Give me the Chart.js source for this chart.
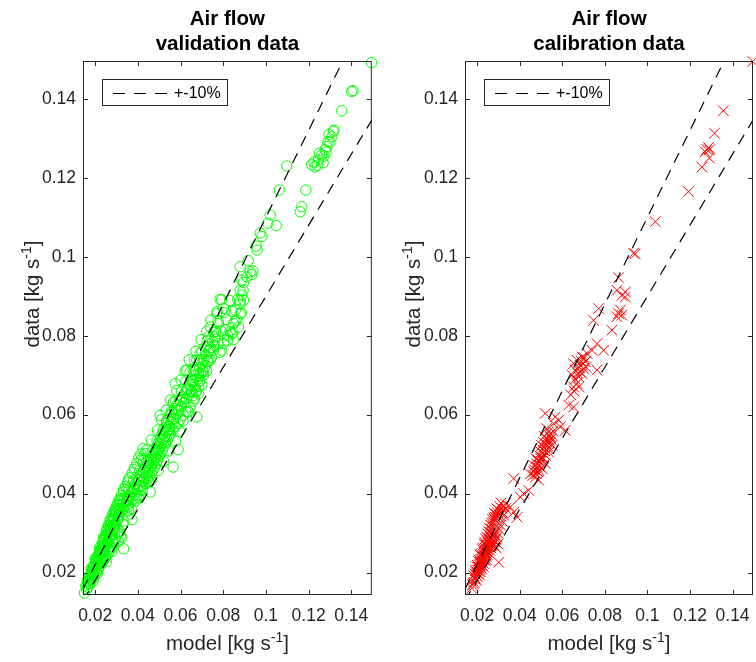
<!DOCTYPE html>
<html><head><meta charset="utf-8">
<script src="https://cdn.jsdelivr.net/npm/chart.js@4/dist/chart.umd.min.js"></script>
<style>
html,body{margin:0;padding:0;background:#fff;}
#wrap{position:relative;width:756px;height:662px;overflow:hidden;}
.c{position:absolute;top:0;height:662px;}
</style></head><body>
<div id="wrap">
<div class="c" style="left:0;width:378px"><canvas id="c1"></canvas></div>
<div class="c" style="left:378px;width:390px"><canvas id="c2"></canvas></div>
</div>
<script>
// ---------------- data ----------------
const tickValues = [0.02, 0.04, 0.06, 0.08, 0.1, 0.12, 0.14];
const tickLabels = ['0.02', '0.04', '0.06', '0.08', '0.1', '0.12', '0.14'];
const axisMin = 0.0143;
const axisMax = 0.1496;
const bandFactors = [1.1, 0.9];
const legendLabel = '+-10%';
const leftTitle = ['Air flow', 'validation data'];
const rightTitle = ['Air flow', 'calibration data'];
const xAxisLabel = ['model [kg s', '-1', ']'];
const yAxisLabel = ['data [kg s', '-1', ']'];

const valModel = [
0.0150,0.0156,0.0160,0.0163,0.0167,0.0170,0.0173,0.0176,0.0179,0.0182,0.0185,0.0187,0.0190,0.0193,0.0196,0.0198,
0.0201,0.0204,0.0206,0.0209,0.0212,0.0214,0.0217,0.0220,0.0222,0.0225,0.0228,0.0230,0.0233,0.0236,0.0238,0.0241,
0.0244,0.0246,0.0249,0.0252,0.0254,0.0257,0.0260,0.0262,0.0265,0.0268,0.0270,0.0273,0.0276,0.0278,0.0281,0.0284,
0.0286,0.0289,0.0292,0.0294,0.0297,0.0300,0.0303,0.0305,0.0308,0.0311,0.0314,0.0317,0.0325,0.0325,0.0333,0.0318,
0.0305,0.0295,0.0285,0.0275,0.0265,0.0255,0.0245,0.0235,0.0225,0.0215,0.0205,0.0195,0.0185,0.0175,0.0165,0.0180,
0.0200,0.0220,0.0240,0.0260,0.0280,0.0300,0.0372,
0.0320,0.0330,0.0333,0.0340,0.0348,0.0345,0.0352,0.0356,0.0358,0.0362,0.0368,0.0372,0.0375,0.0380,0.0385,0.0390,
0.0395,0.0398,0.0403,0.0405,0.0410,0.0411,0.0415,0.0418,0.0422,0.0425,0.0426,0.0430,0.0434,0.0435,0.0438,0.0440,
0.0443,0.0446,0.0448,0.0452,0.0455,0.0458,0.0458,0.0460,0.0463,0.0466,0.0468,0.0471,0.0474,0.0476,0.0479,0.0482,
0.0484,0.0487,0.0489,0.0490,0.0493,0.0495,0.0498,0.0500,0.0503,0.0504,0.0506,0.0508,0.0510,0.0513,0.0515,0.0518,
0.0520,0.0523,0.0525,0.0528,0.0530,0.0533,0.0535,0.0538,0.0540,0.0543,0.0546,0.0548,0.0550,0.0553,0.0556,0.0560,
0.0565,0.0567,0.0565,0.0568,0.0572,0.0575,0.0576,0.0580,0.0584,0.0589,0.0588,0.0592,0.0596,0.0600,0.0604,0.0608,
0.0612,0.0616,0.0620,0.0624,0.0628,0.0629,0.0633,0.0637,0.0640,0.0645,0.0646,0.0650,0.0653,0.0655,0.0660,0.0660,
0.0668,0.0676,0.0676,0.0684,0.0684,0.0692,0.0692,0.0700,0.0707,0.0715,0.0715,0.0722,0.0731,0.0739,0.0739,0.0745,
0.0754,0.0762,0.0770,0.0775,0.0778,0.0785,0.0793,0.0801,0.0801,0.0810,0.0820,0.0832,0.0840,0.0848,0.0856,0.0864,
0.0871,0.0879,0.0879,0.0879,0.0879,0.0887,0.0887,0.0893,0.0895,0.0895,0.0911,0.0917,0.0926,0.0934,0.0939,0.0954,
0.0959,0.0973,0.0981,0.1009,0.1020,0.1048,0.1062,0.1098,0.1160,0.1168,0.1187,0.1215,0.1230,0.1245,0.1262,0.1268,
0.1277,0.1285,0.1291,0.1309,0.1319,0.1355,0.1402,0.1408,0.1495,
0.1250,0.1272,0.1282,0.1300,0.1240,0.1225,0.1295,0.1315,
0.0670,0.0680,0.0690,0.0700,0.0710,0.0720,0.0730,0.0740,0.0750,0.0760,0.0765,0.0725,0.0705,0.0695,0.0685,0.0672,
0.0665,0.0658,
0.0176,0.0190,0.0184,0.0205,0.0211,0.0204,0.0220,0.0238,0.0252,0.0222,0.0240,0.0262,0.0278,0.0237,0.0258,0.0282,
0.0310,0.0252,0.0270,0.0290,0.0316,0.0270,0.0288,0.0306,0.0335,0.0292,0.0312,0.0330,0.0356,0.0312,0.0334,0.0354,
0.0390,0.0333,0.0358,0.0382,0.0420,0.0355,0.0380,0.0405,0.0428,0.0462,0.0383,0.0408,0.0432,0.0495,0.0415,0.0442,
0.0466,0.0520,0.0443,0.0470,0.0495,0.0545,0.0463,0.0490,0.0515,0.0576,0.0492,0.0518,0.0545,0.0595,0.0510,0.0535,
0.0562,0.0612,0.0532,0.0558,0.0585,0.0635,0.0553,0.0578,0.0605,0.0660,0.0582,0.0605,0.0630,0.0675,0.0602,0.0625,
0.0650,0.0688,0.0622,0.0645,0.0668,0.0705,0.0640,0.0665,0.0690,0.0730,0.0672,0.0700,0.0735,0.0785,0.0696,0.0725,
0.0760,0.0820,0.0848,0.0722,0.0755,0.0790,0.0845,0.0742,0.0775,0.0815,0.0855,0.0772,0.0805,0.0840,0.0885,0.0792,
0.0830,0.0868,0.0880,
0.0172,0.0181,0.0188,0.0197,0.0203,0.0212,0.0219,0.0227,0.0234,0.0243,0.0250,0.0256,0.0264,0.0271,0.0279,0.0287,
0.0296,0.0304,0.0313,0.0322,0.0332,0.0342,0.0352,0.0362,0.0373,0.0384,0.0394,0.0404,0.0414,0.0424,
0.0226,0.0248,0.0268,0.0292,0.0310,0.0330,0.0350,0.0368,0.0392,0.0415,0.0440,0.0452
];
const valData = [
0.0148,0.0166,0.0158,0.0178,0.0170,0.0186,0.0176,0.0192,0.0183,0.0200,0.0190,0.0208,0.0196,0.0214,0.0203,0.0221,
0.0210,0.0228,0.0215,0.0234,0.0222,0.0241,0.0229,0.0247,0.0235,0.0254,0.0240,0.0262,0.0247,0.0269,0.0253,0.0277,
0.0259,0.0284,0.0266,0.0291,0.0272,0.0298,0.0279,0.0305,0.0286,0.0312,0.0292,0.0320,0.0299,0.0327,0.0306,0.0334,
0.0312,0.0341,0.0319,0.0348,0.0326,0.0355,0.0332,0.0362,0.0338,0.0345,0.0370,0.0379,0.0387,0.0289,0.0260,0.0292,
0.0300,0.0288,0.0272,0.0262,0.0252,0.0243,0.0236,0.0226,0.0218,0.0210,0.0200,0.0190,0.0182,0.0172,0.0162,0.0210,
0.0235,0.0262,0.0290,0.0318,0.0345,0.0368,0.0334,
0.0360,0.0374,0.0362,0.0368,0.0412,0.0380,0.0372,0.0366,0.0395,0.0388,0.0402,0.0404,0.0385,0.0415,0.0398,0.0425,
0.0387,0.0410,0.0391,0.0435,0.0420,0.0395,0.0445,0.0430,0.0412,0.0455,0.0484,0.0440,0.0502,0.0462,0.0425,0.0450,
0.0470,0.0438,0.0458,0.0478,0.0445,0.0404,0.0465,0.0488,0.0452,0.0472,0.0495,0.0460,0.0480,0.0502,0.0468,0.0490,
0.0510,0.0476,0.0501,0.0520,0.0485,0.0508,0.0530,0.0495,0.0518,0.0598,0.0540,0.0502,0.0528,0.0550,0.0510,0.0538,
0.0560,0.0520,0.0545,0.0568,0.0528,0.0555,0.0578,0.0535,0.0562,0.0588,0.0545,0.0570,0.0598,0.0553,0.0580,0.0605,
0.0467,0.0632,0.0562,0.0590,0.0615,0.0679,0.0570,0.0600,0.0625,0.0511,0.0578,0.0610,0.0636,0.0588,0.0620,0.0645,
0.0598,0.0630,0.0655,0.0608,0.0640,0.0713,0.0665,0.0607,0.0650,0.0619,0.0675,0.0660,0.0657,0.0685,0.0687,0.0713,
0.0670,0.0594,0.0738,0.0653,0.0704,0.0687,0.0755,0.0675,0.0700,0.0721,0.0772,0.0710,0.0797,0.0738,0.0822,0.0745,
0.0763,0.0797,0.0856,0.0780,0.0831,0.0892,0.0763,0.0780,0.0869,0.0815,0.0800,0.0810,0.0804,0.0831,0.0865,0.0839,
0.0822,0.0856,0.0880,0.0915,0.0975,0.0903,0.0941,0.0915,0.0890,0.0935,0.0949,0.0990,0.0962,0.0955,0.0964,0.1027,
0.1017,0.1060,0.1051,0.1085,0.1106,0.1079,0.1169,0.1230,0.1114,0.1127,0.1169,0.1233,0.1228,0.1245,0.1258,0.1238,
0.1271,0.1279,0.1292,0.1304,0.1321,0.1370,0.1419,0.1421,0.1492,
0.1262,0.1255,0.1265,0.1290,0.1232,0.1240,0.1310,0.1318,
0.0700,0.0690,0.0720,0.0730,0.0740,0.0750,0.0760,0.0770,0.0785,0.0775,0.0810,0.0735,0.0712,0.0705,0.0672,0.0660,
0.0640,0.0648,
0.0180,0.0178,0.0202,0.0200,0.0198,0.0230,0.0228,0.0231,0.0227,0.0256,0.0254,0.0257,0.0253,0.0281,0.0279,0.0282,
0.0278,0.0306,0.0304,0.0307,0.0303,0.0333,0.0331,0.0334,0.0330,0.0358,0.0356,0.0359,0.0357,0.0384,0.0382,0.0385,
0.0381,0.0411,0.0409,0.0412,0.0408,0.0434,0.0432,0.0435,0.0431,0.0433,0.0461,0.0459,0.0462,0.0458,0.0485,0.0483,
0.0486,0.0482,0.0511,0.0509,0.0512,0.0508,0.0536,0.0534,0.0537,0.0533,0.0561,0.0559,0.0562,0.0558,0.0587,0.0585,
0.0588,0.0584,0.0611,0.0609,0.0612,0.0608,0.0637,0.0635,0.0638,0.0634,0.0661,0.0659,0.0662,0.0658,0.0688,0.0686,
0.0689,0.0685,0.0711,0.0709,0.0712,0.0708,0.0739,0.0737,0.0740,0.0736,0.0761,0.0759,0.0762,0.0758,0.0790,0.0788,
0.0791,0.0787,0.0790,0.0811,0.0809,0.0812,0.0808,0.0840,0.0838,0.0841,0.0837,0.0861,0.0859,0.0862,0.0858,0.0891,
0.0889,0.0892,0.0888,
0.0190,0.0196,0.0212,0.0219,0.0236,0.0243,0.0250,0.0268,0.0274,0.0287,0.0296,0.0310,0.0318,0.0329,0.0338,0.0352,
0.0362,0.0374,0.0384,0.0396,0.0404,0.0418,0.0428,0.0440,0.0452,0.0466,0.0476,0.0490,0.0500,0.0514,
0.0222,0.0240,0.0266,0.0280,0.0306,0.0322,0.0345,0.0362,0.0395,0.0418,0.0442,0.0430
];

const calModel = [
0.0175,0.0182,0.0188,0.0192,0.0195,0.0198,0.0200,0.0203,0.0205,0.0208,0.0210,0.0212,0.0215,0.0217,0.0219,0.0221,
0.0224,0.0226,0.0228,0.0230,0.0233,0.0235,0.0237,0.0240,0.0242,0.0244,0.0246,0.0249,0.0251,0.0253,0.0256,0.0258,
0.0260,0.0262,0.0265,0.0267,0.0270,0.0272,0.0275,0.0277,0.0280,0.0282,0.0286,0.0290,0.0294,0.0301,0.0298,0.0290,
0.0300,0.0305,0.0310,0.0317,0.0333,0.0333,0.0356,0.0372,0.0372,0.0388,0.0286,0.0403,0.0419,0.0442,0.0450,0.0466,
0.0474,0.0489,0.0489,0.0482,0.0505,0.0497,0.0520,0.0505,0.0520,0.0536,0.0513,0.0552,0.0528,0.0544,0.0520,0.0567,
0.0583,0.0559,0.0591,0.0614,0.0630,0.0653,0.0653,0.0677,0.0669,0.0677,0.0646,0.0693,0.0661,0.0763,0.0700,0.0685,
0.0653,0.0708,0.0669,0.0693,0.0716,0.0740,0.0794,0.0763,0.0833,0.0857,0.0880,0.0864,0.0873,0.0747,0.0771,0.0896,
0.0880,0.0896,0.0857,0.0864,0.0935,0.0943,0.1037,0.1193,0.1256,0.1291,0.1271,0.1291,0.1279,0.1287,0.1315,0.1357,
0.1495,
0.0510,0.0525,0.0540,0.0532,0.0515,0.0500,0.0548,0.0538,0.0556,0.0490,0.0478,0.0470,
0.0178,0.0186,0.0195,0.0190,0.0202,0.0210,0.0199,0.0215,0.0220,0.0207,0.0228,0.0232,0.0215,0.0238,0.0243,0.0225,
0.0248,0.0255,0.0232,0.0260,0.0265,0.0240,0.0270,0.0276,0.0250,0.0282,0.0288,0.0258,0.0292,0.0268,0.0296,0.0278,
0.0302,0.0288,0.0310,0.0295,0.0318,0.0305,0.0325,0.0312,0.0320,
0.0462,0.0470,0.0480,0.0486,0.0494,0.0500,0.0508,0.0512,0.0518,0.0524,0.0530,0.0535,0.0542,0.0527,0.0548,0.0515,
0.0503,0.0495,0.0485,0.0476,
0.0660,0.0672,0.0680,0.0690,0.0702,0.0712,0.0655,0.0640,0.0685,
0.0184,0.0193,0.0201,0.0209,0.0218,0.0227,0.0236,0.0245,0.0254,0.0263,0.0272,0.0281,0.0291,0.0222,0.0236,0.0250,
0.0264,0.0278
];
const calData = [
0.0160,0.0172,0.0185,0.0184,0.0200,0.0192,0.0207,0.0198,0.0213,0.0203,0.0220,0.0208,0.0226,0.0214,0.0233,0.0219,
0.0240,0.0225,0.0247,0.0232,0.0254,0.0238,0.0262,0.0244,0.0270,0.0232,0.0252,0.0278,0.0258,0.0286,0.0264,0.0294,
0.0270,0.0302,0.0278,0.0310,0.0285,0.0318,0.0292,0.0326,0.0300,0.0334,0.0340,0.0346,0.0352,0.0226,0.0272,0.0262,
0.0358,0.0345,0.0352,0.0362,0.0374,0.0362,0.0366,0.0353,0.0438,0.0340,0.0340,0.0391,0.0400,0.0408,0.0450,0.0455,
0.0442,0.0434,0.0459,0.0467,0.0463,0.0480,0.0476,0.0493,0.0497,0.0505,0.0518,0.0522,0.0531,0.0543,0.0603,0.0594,
0.0586,0.0577,0.0569,0.0560,0.0624,0.0619,0.0670,0.0670,0.0679,0.0696,0.0700,0.0704,0.0713,0.0713,0.0717,0.0725,
0.0729,0.0734,0.0738,0.0746,0.0755,0.0763,0.0763,0.0780,0.0814,0.0848,0.0852,0.0856,0.0865,0.0839,0.0869,0.0898,
0.0902,0.0911,0.0915,0.0947,0.1009,0.1007,0.1089,0.1165,0.1227,0.1250,0.1266,0.1271,0.1272,0.1277,0.1313,0.1370,
0.1495,
0.0510,0.0525,0.0535,0.0515,0.0500,0.0488,0.0550,0.0548,0.0558,0.0472,0.0450,0.0470,
0.0168,0.0175,0.0180,0.0196,0.0190,0.0194,0.0215,0.0202,0.0210,0.0228,0.0215,0.0222,0.0244,0.0230,0.0240,0.0258,
0.0246,0.0250,0.0272,0.0256,0.0262,0.0285,0.0268,0.0272,0.0298,0.0278,0.0285,0.0312,0.0290,0.0325,0.0300,0.0338,
0.0310,0.0348,0.0320,0.0360,0.0330,0.0368,0.0345,0.0376,0.0352,
0.0446,0.0460,0.0475,0.0485,0.0468,0.0505,0.0490,0.0530,0.0508,0.0540,0.0522,0.0556,0.0528,0.0565,0.0538,0.0545,
0.0522,0.0495,0.0455,0.0488,
0.0690,0.0705,0.0720,0.0735,0.0745,0.0720,0.0660,0.0650,0.0708,
0.0192,0.0205,0.0218,0.0232,0.0246,0.0262,0.0276,0.0290,0.0304,0.0320,0.0334,0.0350,0.0362,0.0230,0.0250,0.0266,
0.0282,0.0296
];

// ---------------- drawing helpers ----------------
const FONT = '"Liberation Sans", Arial, Helvetica, sans-serif';
const INK = '#262626';

function drawRich(ctx, parts, size, supSize, supRise) {
  const widths = parts.map((p, i) => {
    ctx.font = (i === 1 ? supSize : size) + 'px ' + FONT;
    return ctx.measureText(p).width;
  });
  const total = widths.reduce((a, b) => a + b, 0);
  let x = -total / 2;
  parts.forEach((p, i) => {
    ctx.font = (i === 1 ? supSize : size) + 'px ' + FONT;
    ctx.fillText(p, x, i === 1 ? -supRise : 0);
    x += widths[i];
  });
}

const matlabAxes = {
  id: 'matlabAxes',
  afterDraw(chart, args, o) {
    const {ctx, chartArea: a, scales} = chart;
    const xs = scales.x, ys = scales.y;
    ctx.save();
    ctx.strokeStyle = INK; ctx.lineWidth = 1; ctx.setLineDash([]);
    ctx.beginPath();
    xs.ticks.forEach(t => {
      const p = Math.round(xs.getPixelForValue(t.value)) + 0.5;
      ctx.moveTo(p, a.bottom); ctx.lineTo(p, a.bottom - 5);
      ctx.moveTo(p, a.top); ctx.lineTo(p, a.top + 5);
    });
    ys.ticks.forEach(t => {
      const p = Math.round(ys.getPixelForValue(t.value)) + 0.5;
      ctx.moveTo(a.left, p); ctx.lineTo(a.left + 5, p);
      ctx.moveTo(a.right, p); ctx.lineTo(a.right - 5, p);
    });
    ctx.stroke();
    ctx.strokeRect(a.left + 0.5, a.top + 0.5, a.right - a.left - 1, a.bottom - a.top - 1);

    // legend
    const lx = a.left + 19, ly = a.top + 18, lw = 126, lh = 27;
    ctx.fillStyle = '#fff';
    ctx.fillRect(lx, ly, lw, lh);
    ctx.strokeRect(lx + 0.5, ly + 0.5, lw - 1, lh - 1);
    const cy = ly + 14.5;
    ctx.strokeStyle = '#000';
    ctx.lineWidth = 1.2;
    ctx.setLineDash([12, 9]);
    ctx.beginPath(); ctx.moveTo(lx + 11, cy); ctx.lineTo(lx + 65, cy); ctx.stroke();
    ctx.setLineDash([]);
    ctx.fillStyle = '#000';
    ctx.font = '16px ' + FONT;
    ctx.textAlign = 'left'; ctx.textBaseline = 'middle';
    ctx.fillText(chart.data.datasets[0].label, lx + 72, cy);

    // title
    const cx = (a.left + a.right) / 2;
    ctx.fillStyle = '#000';
    ctx.textAlign = 'center'; ctx.textBaseline = 'alphabetic';
    ctx.font = 'bold 20.5px ' + FONT;
    ctx.fillText(o.title[0], cx, 25);
    ctx.fillText(o.title[1], cx, 49.5);

    // axis labels
    ctx.fillStyle = INK;
    ctx.textAlign = 'left';
    ctx.save();
    ctx.translate(cx, 650);
    drawRich(ctx, xAxisLabel, 20.5, 14, 8.5);
    ctx.restore();
    ctx.save();
    ctx.translate(o.yLabelX, o.yLabelY);
    ctx.rotate(-Math.PI / 2);
    drawRich(ctx, yAxisLabel, 20.5, 14, 8.5);
    ctx.restore();
    ctx.restore();
  }
};

function makeChart(id, model, data, style, title, yWidth, padRight, yLabelX) {
  const lo = axisMin, hi = axisMax;
  const upper = [{x: lo, y: lo * bandFactors[0]}, {x: hi, y: hi * bandFactors[0]}];
  const lower = [{x: lo, y: lo * bandFactors[1]}, {x: hi, y: hi * bandFactors[1]}];
  const pts = model.map((m, i) => ({x: m, y: data[i]}));
  const lineDs = (d, lbl) => ({type: 'line', label: lbl, data: d, borderColor: '#000', borderWidth: 1.2,
    borderDash: [11, 8], pointRadius: 0, fill: false, order: 0, clip: 0, tension: 0});
  const tickFont = {family: FONT, size: 17.5};
  return new Chart(document.getElementById(id), {
    type: 'scatter',
    data: {datasets: [
      lineDs(upper, legendLabel),
      lineDs(lower, legendLabel + ' lower'),
      Object.assign({type: 'scatter', label: 'points', data: pts, order: 1, clip: false, borderWidth: 1,
        backgroundColor: 'rgba(0,0,0,0)'}, style)
    ]},
    options: {
      responsive: true, maintainAspectRatio: false, animation: false, devicePixelRatio: 1,
      events: [],
      layout: {padding: {left: 0, right: padRight, top: 61, bottom: 0}},
      plugins: {legend: {display: false}, tooltip: {enabled: false}, title: {display: false},
        matlabAxes: {title: title, yLabelX: yLabelX, yLabelY: 294}},
      scales: {
        x: {type: 'linear', min: lo, max: hi,
          grid: {display: false, drawTicks: false}, border: {display: false},
          afterBuildTicks: s => { s.ticks = tickValues.map(v => ({value: v})); },
          afterFit: s => { s.height = 67; s.paddingLeft = 0; s.paddingRight = 0; },
          ticks: {color: INK, font: tickFont, padding: 11, maxRotation: 0, autoSkip: false,
            callback: (v, i) => tickLabels[i]}},
        y: {type: 'linear', min: lo, max: hi,
          grid: {display: false, drawTicks: false}, border: {display: false},
          afterBuildTicks: s => { s.ticks = tickValues.map(v => ({value: v})); },
          afterFit: s => { s.width = yWidth; s.paddingTop = 0; s.paddingBottom = 0; },
          ticks: {color: INK, font: tickFont, padding: 7, autoSkip: false,
            callback: (v, i) => tickLabels[i]}}
      }
    },
    plugins: [matlabAxes]
  });
}

makeChart('c1', valModel, valData,
  {pointStyle: 'circle', pointRadius: 5.2, borderColor: '#00ff00'},
  leftTitle, 83, 6, 39);
makeChart('c2', calModel, calData,
  {pointStyle: 'crossRot', pointRadius: 7.5, borderColor: '#ff0000'},
  rightTitle, 87, 15, 42);
</script>
</body></html>
